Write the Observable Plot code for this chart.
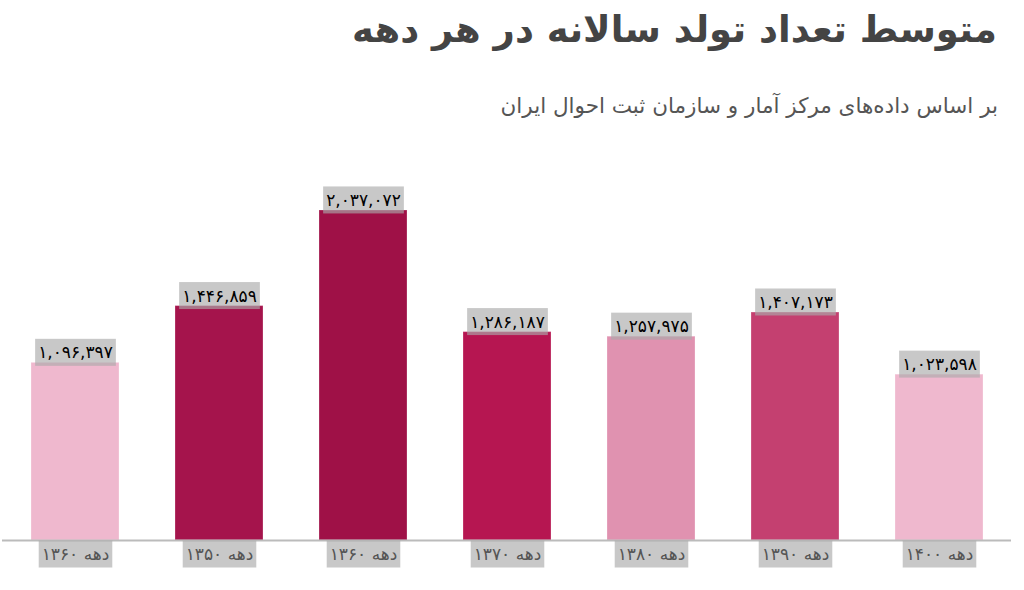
<!DOCTYPE html>
<html>
<head>
<meta charset="utf-8">
<script src="https://cdn.jsdelivr.net/npm/d3@7"></script>
<script src="https://cdn.jsdelivr.net/npm/@observablehq/plot@0.6"></script>
<style>
  body { margin: 0; background: #fff; font-family: "DejaVu Sans", sans-serif; }
  #wrap { position: relative; width: 1024px; height: 590px; overflow: hidden; }
  #title { position: absolute; right: 27px; top: 8px; margin: 0; font-size: 37px; font-weight: bold; color: #444; direction: rtl; white-space: nowrap; line-height: 1.2; }
  #subtitle { position: absolute; right: 26px; top: 93px; margin: 0; font-size: 21.5px; color: #555; direction: rtl; white-space: nowrap; line-height: 1.2; }
  #chart { position: absolute; left: 0; top: 150px; }
</style>
</head>
<body>
<div id="wrap">
  <div id="title">متوسط تعداد تولد سالانه در هر دهه</div>
  <div id="subtitle">بر اساس داده‌های مرکز آمار و سازمان ثبت احوال ایران</div>
  <div id="chart"></div>
</div>
<script>
const decades = ["دهه ۱۳۶۰", "دهه ۱۳۵۰", "دهه ۱۳۶۰", "دهه ۱۳۷۰", "دهه ۱۳۸۰", "دهه ۱۳۹۰", "دهه ۱۴۰۰"];
const births = [1096397, 1446859, 2037072, 1286187, 1257975, 1407173, 1023598];
const colors = ["#efb8ce", "#a5144c", "#9f1147", "#b61651", "#e092b0", "#c44070", "#efb8ce"];

const faDigits = s => String(s).replace(/\d/g, d => "۰۱۲۳۴۵۶۷۸۹"[d]);
const data = decades.map((label, i) => ({key: i, label, value: births[i], color: colors[i]}));

const chart = Plot.plot({
  width: 1024,
  height: 440,
  marginTop: 60,
  marginBottom: 50,
  marginLeft: 2,
  marginRight: 13,
  x: {type: "band", domain: data.map(d => d.key), paddingInner: 0.39, paddingOuter: 0.19, axis: null},
  y: {domain: [0, d3.max(births)], axis: null},
  style: {fontFamily: "DejaVu Sans, sans-serif", background: "transparent"},
  marks: [
    Plot.barY(data, {x: "key", y: "value", fill: d => d.color, stroke: "#fff", strokeOpacity: 0.25, strokeWidth: 1}),
    Plot.ruleY([0], {stroke: "#bbb", strokeWidth: 2}),
    Plot.text(data, {x: "key", y: "value", text: d => faDigits(d3.format(",")(d.value)), dy: -10, fill: "#000", fontSize: 17, fontWeight: "normal", className: "boxed"}),
    Plot.text(data, {x: "key", frameAnchor: "bottom", dy: 19.5, text: "label", fill: "#555", fontSize: 17, className: "boxed"})
  ]
});
document.getElementById("chart").appendChild(chart);

// gray boxes behind the labels, sized to each text
chart.querySelectorAll("g.boxed").forEach(g => {
  g.querySelectorAll("text").forEach(t => {
    const b = t.getBBox();
    const r = document.createElementNS("http://www.w3.org/2000/svg", "rect");
    const w = b.width + 6, h = 27;
    r.setAttribute("x", b.x + b.width / 2 - w / 2);
    r.setAttribute("y", b.y + b.height / 2 - h / 2);
    r.setAttribute("width", w);
    r.setAttribute("height", h);
    r.setAttribute("fill", "#aaa");
    r.setAttribute("fill-opacity", 0.65);
    const tr = t.getAttribute("transform");
    if (tr) r.setAttribute("transform", tr);
    g.insertBefore(r, t);
  });
});
</script>
</body>
</html>
